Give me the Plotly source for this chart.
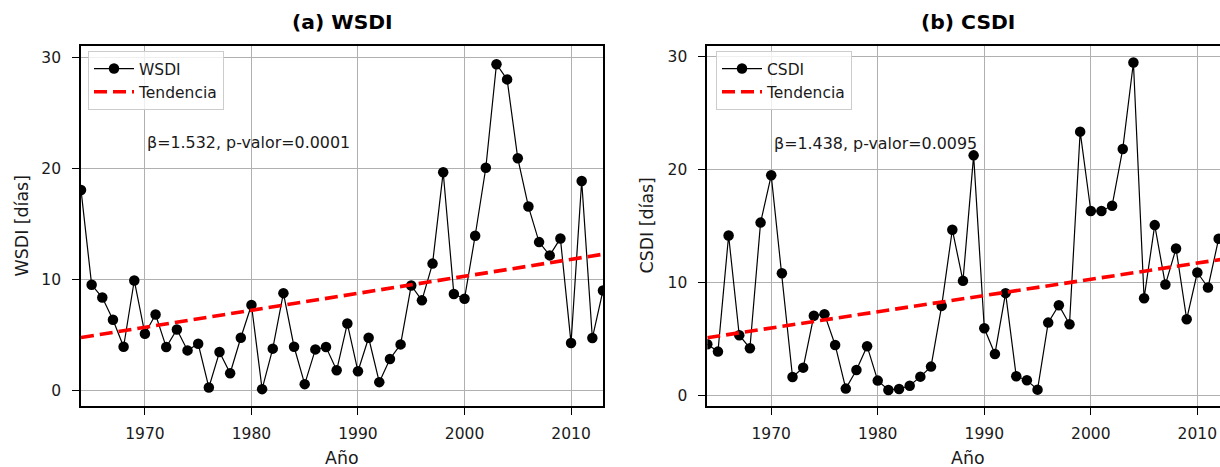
import plotly.graph_objects as go

# Years and annual index values (days)
years = list(range(1964, 2014))
wsdi = [18.1, 9.55, 8.4, 6.4, 3.97, 9.94, 5.14, 6.87, 3.94, 5.52,
        3.64, 4.24, 0.3, 3.49, 1.58, 4.78, 7.73, 0.15, 3.8, 8.8,
        3.97, 0.6, 3.73, 3.94, 1.85, 6.06, 1.76, 4.78, 0.78, 2.87,
        4.18, 9.49, 8.15, 11.46, 19.7, 8.72, 8.3, 13.97, 20.1, 29.43,
        28.06, 20.95, 16.6, 13.4, 12.2, 13.73, 4.3, 18.9, 4.75, 9.04]

csdi_years = list(range(1964, 2013))
csdi = [4.52, 3.87, 14.16, 5.32, 4.17, 15.3, 19.49, 10.82, 1.62, 2.45,
        7.04, 7.19, 4.46, 0.59, 2.24, 4.35, 1.3, 0.47, 0.56, 0.85,
        1.65, 2.54, 7.92, 14.67, 10.14, 21.26, 5.94, 3.66, 9.05, 1.69,
        1.33, 0.5, 6.44, 7.98, 6.3, 23.36, 16.33, 16.33, 16.8, 21.83,
        29.49, 8.6, 15.08, 9.81, 13.0, 6.74, 10.88, 9.55, 13.87]

# Trend statistics (beta is the slope in days per decade)
wsdi_beta, wsdi_p = 1.532, 0.0001
csdi_beta, csdi_p = 1.438, 0.0095
wsdi_trend_start = 4.8
csdi_trend_start = 5.1
trend_years = [1964, 2013]

x_ticks = [1970, 1980, 1990, 2000, 2010]
y_ticks = [0, 10, 20, 30]


def trend(start, beta):
    return [start + beta / 10.0 * (t - trend_years[0]) for t in trend_years]


W, H = 1220, 467
FONT = "DejaVu Sans"
TXT = "#1a1a1a"
GRID = "#b0b0b0"

# panel placement in pixels
L1, R1 = 81, 603
L2 = 707.3
TOP, BOT = 46, 406
panel_w = R1 - L1
right_visible = (W - L2) / panel_w  # right panel is cut by the page edge

fig = go.Figure()

line_style = dict(color="black", width=1.2)
marker_style = dict(color="black", size=10.5)
trend_style = dict(color="red", width=3.6, dash="13px,6px")

fig.add_trace(go.Scatter(x=years, y=wsdi, mode="lines+markers", name="WSDI",
                         line=line_style, marker=marker_style,
                         xaxis="x", yaxis="y", legend="legend"))
fig.add_trace(go.Scatter(x=trend_years, y=trend(wsdi_trend_start, wsdi_beta),
                         mode="lines", name="Tendencia", line=trend_style,
                         xaxis="x", yaxis="y", legend="legend"))
fig.add_trace(go.Scatter(x=csdi_years, y=csdi, mode="lines+markers", name="CSDI",
                         line=line_style, marker=marker_style,
                         xaxis="x2", yaxis="y2", legend="legend2"))
fig.add_trace(go.Scatter(x=trend_years, y=trend(csdi_trend_start, csdi_beta),
                         mode="lines", name="Tendencia", line=trend_style,
                         xaxis="x2", yaxis="y2", legend="legend2"))

ydom = [(H - BOT) / H, (H - TOP) / H]
x0, x1 = trend_years[0], trend_years[1]

axis_common = dict(
    showgrid=True, gridcolor=GRID, gridwidth=1.3,
    showline=True, linecolor="black", linewidth=1.8,
    ticks="outside", ticklen=7, tickwidth=1.3, tickcolor="black",
    tickfont=dict(family=FONT, size=15.5, color=TXT),
    zeroline=False,
)

legend_common = dict(
    xanchor="left", yanchor="top",
    bgcolor="rgba(255,255,255,0.8)", bordercolor="#cccccc",
    borderwidth=1, font=dict(family=FONT, size=15.5, color=TXT),
    tracegroupgap=0, itemwidth=40,
)

fig.update_layout(
    width=W, height=H,
    margin=dict(l=0, r=0, t=0, b=0),
    paper_bgcolor="white", plot_bgcolor="white",
    font=dict(family=FONT, color=TXT),
    xaxis=dict(domain=[L1 / W, R1 / W], range=[x0, x1], tickvals=x_ticks,
               mirror=True, anchor="y", ticklabelstandoff=5, **axis_common),
    yaxis=dict(domain=ydom, range=[-1.37, 31.07], tickvals=y_ticks,
               mirror=True, anchor="x", ticklabelstandoff=8, **axis_common),
    xaxis2=dict(domain=[L2 / W, 1.0],
                range=[x0, x0 + (x1 - x0) * right_visible], tickvals=x_ticks,
                mirror=True, anchor="y2", ticklabelstandoff=5, **axis_common),
    yaxis2=dict(domain=ydom, range=[-0.95, 30.95], tickvals=y_ticks,
                mirror=False, anchor="x2", ticklabelstandoff=8, **axis_common),
    legend=dict(x=88 / W, y=(H - 51) / H, **legend_common),
    legend2=dict(x=716 / W, y=(H - 51) / H, **legend_common),
    showlegend=True,
)


def label(text, px, py, size, color=TXT, angle=0):
    return dict(text=text, x=px / W, y=(H - py) / H, xref="paper", yref="paper",
                xanchor="center", yanchor="middle", showarrow=False,
                textangle=angle, font=dict(family=FONT, size=size, color=color))


c1 = (L1 + R1) / 2
c2 = L2 + panel_w / 2
ann = [
    label("<b>(a) WSDI</b>", c1, 22, 20.3, "black"),
    label("<b>(b) CSDI</b>", c2, 22, 20.3, "black"),
    label("Año", c1, 458, 17.4),
    label("Año", c2, 458, 17.4),
    label("WSDI [días]", 21.5, 226, 17.4, angle=-90),
    label("CSDI [días]", 646.5, 226, 17.4, angle=-90),
]
# trend statistics
ann.append(dict(text=f"β={wsdi_beta:.3f}, p-valor={wsdi_p:.4f}", x=1970.05, y=0.733,
                xref="x", yref="y domain", xanchor="left", yanchor="middle",
                showarrow=False, font=dict(family=FONT, size=15.9, color=TXT)))
ann.append(dict(text=f"β={csdi_beta:.3f}, p-valor={csdi_p:.4f}", x=1970.05, y=0.728,
                xref="x2", yref="y2 domain", xanchor="left", yanchor="middle",
                showarrow=False, font=dict(family=FONT, size=15.9, color=TXT)))
fig.update_layout(annotations=ann)

fig.write_html("out.html")
